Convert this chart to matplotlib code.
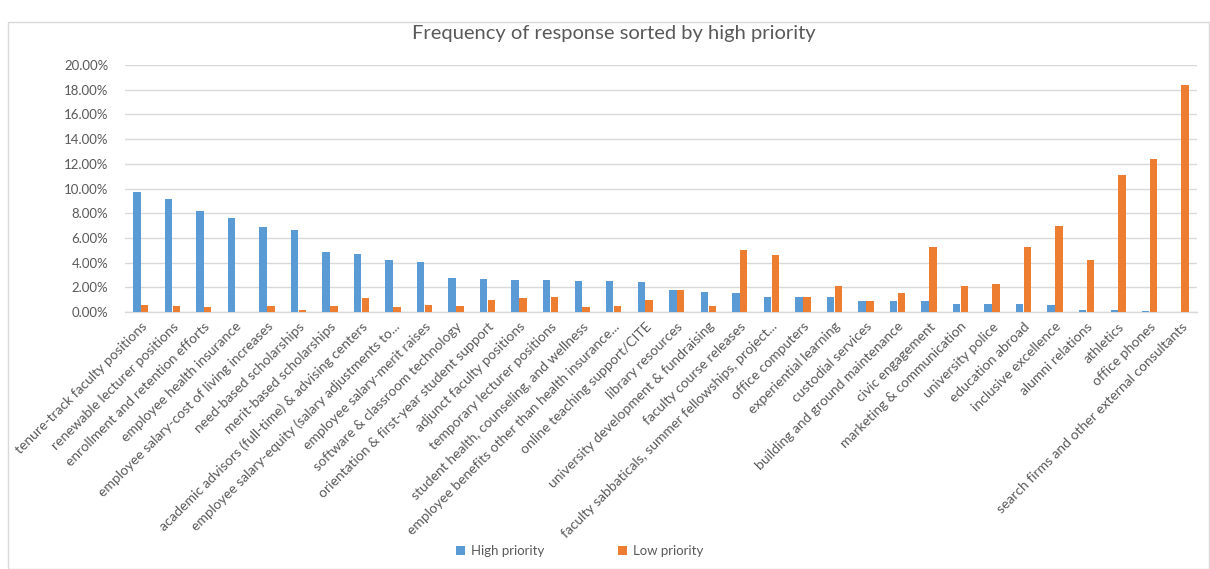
import matplotlib.pyplot as plt
import numpy as np
from matplotlib.patches import Rectangle
from matplotlib.ticker import FuncFormatter

# Share of responses per budget item (percent), sorted by high priority
categories = [
    "tenure-track faculty positions",
    "renewable lecturer positions",
    "enrollment and retention efforts",
    "employee health insurance",
    "employee salary-cost of living increases",
    "need-based scholarships",
    "merit-based scholarships",
    "academic advisors (full-time) & advising centers",
    "employee salary-equity (salary adjustments to...",
    "employee salary-merit raises",
    "software & classroom technology",
    "orientation & first-year student support",
    "adjunct faculty positions",
    "temporary lecturer positions",
    "student health, counseling, and wellness",
    "employee benefits other than health insurance...",
    "online teaching support/CITE",
    "library resources",
    "university development & fundraising",
    "faculty course releases",
    "faculty sabbaticals, summer fellowships, project...",
    "office computers",
    "experiential learning",
    "custodial services",
    "building and ground maintenance",
    "civic engagement",
    "marketing & communication",
    "university police",
    "education abroad",
    "inclusive excellence",
    "alumni relations",
    "athletics",
    "office phones",
    "search firms and other external consultants",
]

high_priority = [9.72, 9.14, 8.19, 7.63, 6.87, 6.66, 4.88, 4.69, 4.23, 4.04,
                 2.78, 2.66, 2.58, 2.58, 2.47, 2.47, 2.39, 1.79, 1.63, 1.52,
                 1.22, 1.22, 1.22, 0.89, 0.89, 0.89, 0.65, 0.65, 0.65, 0.57,
                 0.19, 0.19, 0.10, 0.0]

low_priority = [0.59, 0.51, 0.43, 0.04, 0.51, 0.13, 0.51, 1.16, 0.43, 0.59,
                0.49, 0.95, 1.14, 1.22, 0.38, 0.49, 0.95, 1.79, 0.49, 5.05,
                4.59, 1.22, 2.10, 0.89, 1.50, 5.24, 2.10, 2.27, 5.24, 6.96,
                4.20, 11.10, 12.35, 18.35]

blue = "#5B9BD5"
orange = "#ED7D31"
grey_text = "#595959"
grid_col = "#D9D9D9"
font = ["Lato", "DejaVu Sans"]
plt.rcParams["font.family"] = font

fig = plt.figure(figsize=(12.10, 5.69), dpi=100)
fig.patches.append(Rectangle((8 / 1210, 0), 1 - 9 / 1210, 1 - 22 / 569,
                             transform=fig.transFigure, fill=False,
                             edgecolor="#D9D9D9", linewidth=1.0))

ax = fig.add_axes([125 / 1210, 1 - 312 / 569, 1072 / 1210, 247 / 569])

x = np.arange(len(categories))
w = 0.235
ax.bar(x - 0.125, high_priority, width=w, color=blue, label="High priority", zorder=3)
ax.bar(x + 0.125, low_priority, width=w, color=orange, label="Low priority", zorder=3)

ax.set_xlim(-0.5, len(categories) - 0.5)
ax.set_ylim(0, 20)
ax.set_yticks(np.arange(0, 21, 2))
ax.yaxis.set_major_formatter(FuncFormatter(lambda v, p: f"{v:.2f}%"))
ax.grid(axis="y", color=grid_col, linewidth=1.0, zorder=0)

for s in ["top", "right", "left"]:
    ax.spines[s].set_visible(False)
ax.spines["bottom"].set_color(grid_col)
ax.spines["bottom"].set_linewidth(1.0)

ax.set_xticks(x)
ax.set_xticklabels(categories, rotation=45, ha="right", rotation_mode="anchor",
                   fontsize=10, color=grey_text)
ax.tick_params(axis="x", length=0, pad=6)
ax.tick_params(axis="y", length=0, pad=12, labelsize=9.5, labelcolor=grey_text)

fig.text(0.507, 1 - 33 / 569, "Frequency of response sorted by high priority",
         ha="center", va="center", fontsize=14.5, color=grey_text)

fig.legend(loc="center", bbox_to_anchor=(0.479, 1 - 551 / 569), ncol=2,
           frameon=False, fontsize=9.5, handlelength=0.7, handleheight=0.7,
           columnspacing=5.6, handletextpad=0.4, labelcolor=grey_text)

fig.savefig("out.png", dpi=100)
